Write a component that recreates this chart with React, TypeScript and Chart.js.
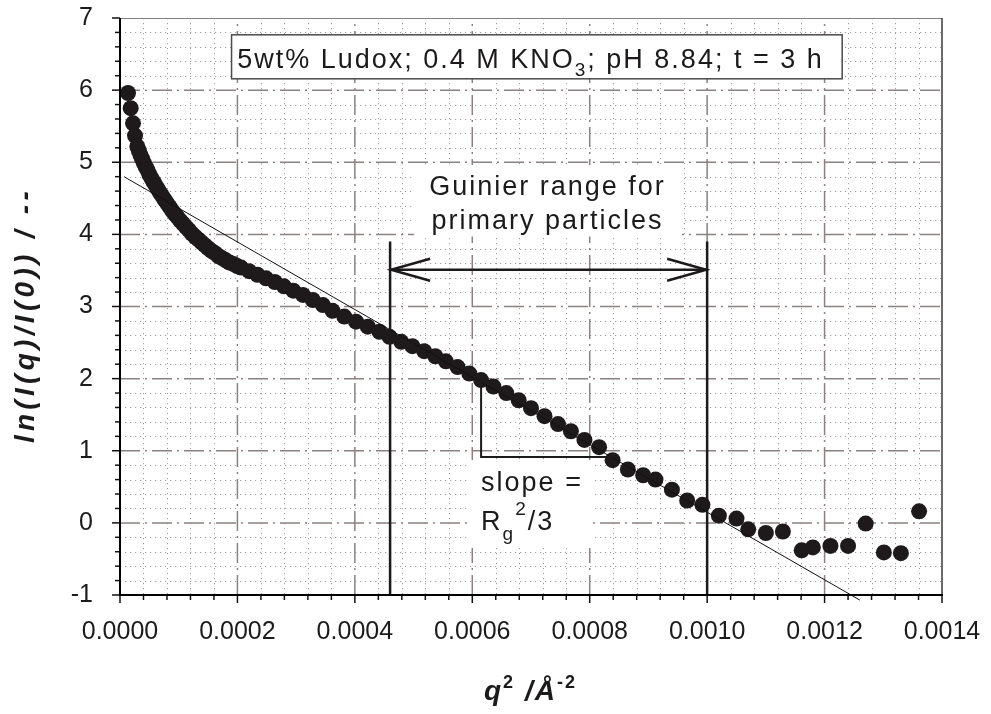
import React, { useEffect, useRef } from 'react';
import { Chart, registerables } from 'chart.js';

Chart.register(...registerables);

const FONT = '"Liberation Sans", Arial, Helvetica, sans-serif';
const INK = '#1c1a1a';

// ---- measured data: q^2 (1/Å^2) and ln(I(q)/I(0)) ----
const qSquared = [
  0.0000136, 0.0000182, 0.0000222, 0.0000256, 0.0000295, 0.0000321, 0.0000348, 0.0000376,
  0.0000406, 0.0000436, 0.0000468, 0.0000501, 0.0000534, 0.0000569, 0.0000605, 0.0000642,
  0.0000681, 0.000072, 0.000076, 0.0000802, 0.0000845, 0.0000888, 0.0000933, 0.0000979,
  0.0001026, 0.0001074, 0.0001124, 0.0001174, 0.0001225, 0.0001278, 0.0001332, 0.0001387,
  0.0001442, 0.0001499, 0.0001558, 0.0001617, 0.0001677, 0.0001738, 0.0001801, 0.0001865,
  0.0001929, 0.0001995, 0.0002062, 0.0002199, 0.0002341, 0.0002487, 0.0002637, 0.0002792,
  0.0002952, 0.0003115, 0.0003283, 0.0003456, 0.000362, 0.000382, 0.000402, 0.000422,
  0.000442, 0.000459, 0.000479, 0.000498, 0.000518, 0.000537, 0.000555, 0.000575,
  0.000595, 0.000615, 0.000636, 0.000658, 0.000679, 0.0007, 0.000723, 0.000746,
  0.000768, 0.000791, 0.000816, 0.000839, 0.000865, 0.000891, 0.000912, 0.00094,
  0.000966, 0.000992, 0.00102, 0.00105, 0.00107, 0.0011, 0.001129, 0.001161,
  0.00118, 0.00121, 0.00124, 0.00127, 0.001301, 0.00133, 0.001361,
];
const lnRatio = [
  5.96, 5.75, 5.54, 5.37, 5.22, 5.16, 5.1, 5.05,
  4.99, 4.94, 4.89, 4.83, 4.78, 4.73, 4.68, 4.63,
  4.58, 4.53, 4.48, 4.43, 4.38, 4.33, 4.28, 4.24,
  4.19, 4.15, 4.1, 4.06, 4.01, 3.97, 3.93, 3.89,
  3.85, 3.81, 3.77, 3.74, 3.7, 3.67, 3.64, 3.61,
  3.59, 3.56, 3.54, 3.49, 3.44, 3.39, 3.34, 3.28,
  3.22, 3.16, 3.09, 3.02, 2.94, 2.86, 2.79, 2.72,
  2.65, 2.58, 2.51, 2.45, 2.38, 2.31, 2.24, 2.16,
  2.07, 1.98, 1.89, 1.8, 1.7, 1.59, 1.48, 1.37,
  1.27, 1.15, 1.05, 0.87, 0.74, 0.66, 0.6, 0.46,
  0.31, 0.25, 0.1, 0.06, -0.09, -0.14, -0.12, -0.38,
  -0.34, -0.32, -0.32, -0.01, -0.41, -0.42, 0.16,
];

// linear Guinier fit line
const fitQSquared = [0.0000068, 0.00126];
const fitLnRatio = [4.8, -1.07];

// axes
const xTickLabels = ['0.0000', '0.0002', '0.0004', '0.0006', '0.0008', '0.0010', '0.0012', '0.0014'];
const yTickLabels = ['-1', '0', '1', '2', '3', '4', '5', '6', '7'];
const X_MIN = 0, X_MAX = 0.0014, X_STEP = 0.0002, X_MINOR = 0.00004;
const Y_MIN = -1, Y_MAX = 7, Y_STEP = 1, Y_MINOR = 0.2;

// annotations (data coordinates)
const guinierRange = [0.00046, 0.001];
const guinierLineTop = 3.9;
const guinierArrowY = 3.51;
const slopeX = [0.000615, 0.000839];
const slopeY = [1.98, 0.914];

const titleBox = { x: [0.00019, 0.00123], y: [6.767, 6.157] };
const titleAnchor = { x: 0.0001995, y: 6.31 };
const guinierBox = { x: [0.000501, 0.000957], y: [4.96, 3.97] };
const guinierLines = ['Guinier range for', 'primary particles'];
const guinierAnchor = { x: 0.000728, y: [4.548, 4.076] };
const slopeBox = { x: [0.000594, 0.000803], y: [0.872, -0.348] };
const slopeAnchor = { x: 0.000615, y: [0.447, -0.098] };

type Seg = { t: string; f: string; dy: number };

function drawRich(ctx: any, x: number, y: number, segs: Seg[], spacing: number) {
  let cx = x;
  ctx.letterSpacing = spacing + 'px';
  ctx.textAlign = 'left';
  ctx.textBaseline = 'alphabetic';
  for (const s of segs) {
    ctx.font = s.f;
    ctx.fillText(s.t, cx, y + s.dy);
    cx += ctx.measureText(s.t).width;
  }
  return cx;
}

const gridPlugin = {
  id: 'customGrid',
  beforeDatasetsDraw(chart: any) {
    const { ctx, chartArea: a } = chart;
    const xs = chart.scales.x, ys = chart.scales.y;
    const X = (v: number) => xs.getPixelForValue(v);
    const Y = (v: number) => ys.getPixelForValue(v);
    const nx = Math.round((X_MAX - X_MIN) / X_MINOR);
    const ny = Math.round((Y_MAX - Y_MIN) / Y_MINOR);
    ctx.save();
    // minor dotted grid
    ctx.lineWidth = 1;
    ctx.strokeStyle = '#a39a9a';
    ctx.setLineDash([1.2, 3.8]);
    for (let i = 1; i < nx; i++) {
      if (i % 5 === 0) continue;
      const px = Math.round(X(X_MIN + i * X_MINOR)) + 0.5;
      ctx.beginPath(); ctx.moveTo(px, a.top); ctx.lineTo(px, a.bottom); ctx.stroke();
    }
    for (let j = 1; j < ny; j++) {
      if (j % 5 === 0) continue;
      const py = Math.round(Y(Y_MIN + j * Y_MINOR)) + 0.5;
      ctx.beginPath(); ctx.moveTo(a.left, py); ctx.lineTo(a.right, py); ctx.stroke();
    }
    // major dash-dot grid
    ctx.lineWidth = 1.5;
    ctx.strokeStyle = '#8c8080';
    ctx.setLineDash([20, 5, 2, 5]);
    for (let i = 5; i < nx; i += 5) {
      const px = X(X_MIN + i * X_MINOR);
      ctx.beginPath(); ctx.moveTo(px, a.bottom); ctx.lineTo(px, a.top); ctx.stroke();
    }
    for (let j = 5; j < ny; j += 5) {
      const py = Y(Y_MIN + j * Y_MINOR);
      ctx.beginPath(); ctx.moveTo(a.left, py); ctx.lineTo(a.right, py); ctx.stroke();
    }
    ctx.setLineDash([]);
    // white annotation backgrounds
    ctx.fillStyle = '#ffffff';
    const rect = (b: { x: number[]; y: number[] }) => {
      const x0 = X(b.x[0]), x1 = X(b.x[1]), y0 = Y(b.y[0]), y1 = Y(b.y[1]);
      return [x0, y0, x1 - x0, y1 - y0];
    };
    for (const b of [guinierBox, slopeBox, titleBox]) {
      const r = rect(b);
      ctx.fillRect(r[0], r[1], r[2], r[3]);
    }
    const tr = rect(titleBox);
    ctx.strokeStyle = '#4a4a4a';
    ctx.lineWidth = 1.5;
    ctx.strokeRect(tr[0], tr[1], tr[2], tr[3]);
    ctx.restore();
  },
  afterDatasetsDraw(chart: any) {
    const { ctx, chartArea: a } = chart;
    const xs = chart.scales.x, ys = chart.scales.y;
    const X = (v: number) => xs.getPixelForValue(v);
    const Y = (v: number) => ys.getPixelForValue(v);
    ctx.save();
    ctx.setLineDash([]);
    ctx.strokeStyle = INK;
    ctx.fillStyle = INK;
    ctx.lineCap = 'butt';
    // Guinier range lines
    ctx.lineWidth = 2.5;
    for (const g of guinierRange) {
      const px = X(g);
      ctx.beginPath(); ctx.moveTo(px, Y(guinierLineTop)); ctx.lineTo(px, a.bottom); ctx.stroke();
    }
    const ax0 = X(guinierRange[0]), ax1 = X(guinierRange[1]), ay = Y(guinierArrowY);
    ctx.beginPath(); ctx.moveTo(ax0, ay); ctx.lineTo(ax1, ay); ctx.stroke();
    ctx.lineJoin = 'miter';
    ctx.beginPath(); ctx.moveTo(ax0 + 40, ay - 11); ctx.lineTo(ax0 + 1, ay); ctx.lineTo(ax0 + 40, ay + 11); ctx.stroke();
    ctx.beginPath(); ctx.moveTo(ax1 - 40, ay - 11); ctx.lineTo(ax1 - 1, ay); ctx.lineTo(ax1 - 40, ay + 11); ctx.stroke();
    // slope triangle
    ctx.lineWidth = 2;
    ctx.beginPath();
    ctx.moveTo(X(slopeX[0]), Y(slopeY[0]));
    ctx.lineTo(X(slopeX[0]), Y(slopeY[1]));
    ctx.lineTo(X(slopeX[1]), Y(slopeY[1]));
    ctx.stroke();

    const F = '27px ' + FONT;
    const FS = '19px ' + FONT;
    // title text
    drawRich(ctx, X(titleAnchor.x), Y(titleAnchor.y), [
      { t: '5wt% Ludox; 0.4 M KNO', f: F, dy: 0 },
      { t: '3', f: FS, dy: 8 },
      { t: '; pH 8.84; t = 3 h', f: F, dy: 0 },
    ], 2);
    // Guinier text
    ctx.font = F;
    ctx.letterSpacing = '2px';
    ctx.textAlign = 'center';
    ctx.fillText(guinierLines[0], X(guinierAnchor.x), Y(guinierAnchor.y[0]));
    ctx.fillText(guinierLines[1], X(guinierAnchor.x), Y(guinierAnchor.y[1]));
    // slope text
    drawRich(ctx, X(slopeAnchor.x), Y(slopeAnchor.y[0]), [{ t: 'slope =', f: F, dy: 0 }], 2);
    const sx = X(slopeAnchor.x), sy = Y(slopeAnchor.y[1]);
    ctx.letterSpacing = '2px';
    ctx.font = F; ctx.textAlign = 'left';
    ctx.fillText('R', sx, sy);
    const rw = ctx.measureText('R').width;
    ctx.font = FS;
    ctx.fillText('g', sx + rw, sy + 10);
    const gw = ctx.measureText('g').width;
    ctx.fillText('2', sx + rw + gw, sy - 15);
    const tw = ctx.measureText('2').width;
    ctx.font = F;
    ctx.fillText('/3', sx + rw + gw + tw, sy);

    // ticks
    ctx.letterSpacing = '0px';
    ctx.lineWidth = 1.5;
    ctx.strokeStyle = '#111';
    const nx = Math.round((X_MAX - X_MIN) / X_MINOR);
    const ny = Math.round((Y_MAX - Y_MIN) / Y_MINOR);
    for (let i = 0; i <= nx; i++) {
      const px = X(X_MIN + i * X_MINOR);
      const len = i % 5 === 0 ? 8 : 5;
      ctx.beginPath(); ctx.moveTo(px, a.bottom); ctx.lineTo(px, a.bottom + len); ctx.stroke();
    }
    for (let j = 0; j <= ny; j++) {
      const py = Y(Y_MIN + j * Y_MINOR);
      const len = j % 5 === 0 ? 8 : 5;
      ctx.beginPath(); ctx.moveTo(a.left - len, py); ctx.lineTo(a.left, py); ctx.stroke();
    }
    // frame
    ctx.strokeStyle = '#808080';
    ctx.lineWidth = 1;
    ctx.beginPath(); ctx.moveTo(a.left, a.top + 0.5); ctx.lineTo(a.right, a.top + 0.5); ctx.stroke();
    ctx.strokeStyle = '#3a3a3a';
    ctx.lineWidth = 1.5;
    ctx.beginPath(); ctx.moveTo(a.right, a.top); ctx.lineTo(a.right, a.bottom); ctx.stroke();
    ctx.strokeStyle = '#000';
    ctx.lineWidth = 2;
    ctx.beginPath(); ctx.moveTo(a.left, a.top); ctx.lineTo(a.left, a.bottom); ctx.lineTo(a.right + 1, a.bottom); ctx.stroke();
    ctx.restore();
  },
  afterDraw(chart: any) {
    const { ctx } = chart;
    ctx.save();
    ctx.fillStyle = INK;
    // y-axis title
    ctx.translate(34, 315);
    ctx.rotate(-Math.PI / 2);
    ctx.letterSpacing = '4.3px';
    ctx.font = 'italic bold 28px ' + FONT;
    ctx.textAlign = 'center';
    ctx.textBaseline = 'alphabetic';
    ctx.fillText('ln(I(q)/I(0)) / --', 0, 0);
    ctx.restore();
    ctx.save();
    ctx.fillStyle = INK;
    const FB = 'italic bold 28px ' + FONT;
    const FBS = 'bold 18px ' + FONT;
    drawRich(ctx, 484, 700, [
      { t: 'q', f: FB, dy: 0 },
      { t: '2', f: FBS, dy: -12 },
      { t: ' /Å', f: FB, dy: 0 },
      { t: '-2', f: FBS, dy: -12 },
    ], 2);
    ctx.restore();
  },
};

const zeroPad = (s: any) => {
  s.paddingTop = 0;
  s.paddingBottom = 0;
  s.paddingLeft = 0;
  s.paddingRight = 0;
};

export default function App() {
  const ref = useRef<HTMLCanvasElement | null>(null);
  useEffect(() => {
    if (!ref.current) return;
    const points = qSquared.map((q, i) => ({ x: q, y: lnRatio[i] }));
    const fit = fitQSquared.map((q, i) => ({ x: q, y: fitLnRatio[i] }));
    const chart = new Chart(ref.current, {
      type: 'scatter',
      data: {
        datasets: [
          {
            label: 'fit',
            data: fit,
            showLine: true,
            borderColor: '#111',
            borderWidth: 1,
            pointRadius: 0,
            pointHoverRadius: 0,
            fill: false,
            clip: { left: 2, top: 2, right: 2, bottom: 6 },
          } as any,
          {
            label: 'data',
            data: points,
            pointRadius: 8,
            pointHoverRadius: 8,
            backgroundColor: '#1e1a1b',
            borderColor: '#1e1a1b',
            borderWidth: 0,
            clip: 10,
          } as any,
        ],
      },
      options: {
        responsive: false,
        animation: false,
        events: [],
        layout: { padding: { left: 0, top: 18, right: 49, bottom: 0 } },
        plugins: { legend: { display: false }, tooltip: { enabled: false }, title: { display: false } },
        scales: {
          x: {
            type: 'linear',
            min: X_MIN,
            max: X_MAX,
            grid: { display: false, drawTicks: false, tickLength: 0 },
            border: { display: false },
            ticks: {
              stepSize: X_STEP,
              autoSkip: false,
              maxRotation: 0,
              minRotation: 0,
              padding: 22,
              color: INK,
              font: { family: FONT, size: 25 },
              callback: (v: any, i: number) => xTickLabels[i] ?? '',
            },
            afterFit: (s: any) => { s.height = 119; zeroPad(s); },
          },
          y: {
            type: 'linear',
            min: Y_MIN,
            max: Y_MAX,
            grid: { display: false, drawTicks: false, tickLength: 0 },
            border: { display: false },
            ticks: {
              stepSize: Y_STEP,
              autoSkip: false,
              padding: 27,
              color: INK,
              font: { family: FONT, size: 25 },
              callback: (v: any, i: number) => yTickLabels[i] ?? '',
            },
            afterFit: (s: any) => { s.width = 120; zeroPad(s); },
          },
        },
      },
      plugins: [gridPlugin],
    });
    return () => chart.destroy();
  }, []);
  return (
    <div style={{ position: 'fixed', left: 0, top: 0, width: 991, height: 714, background: '#fff' }}>
      <canvas ref={ref} width={991} height={714} style={{ display: 'block' }} />
    </div>
  );
}
